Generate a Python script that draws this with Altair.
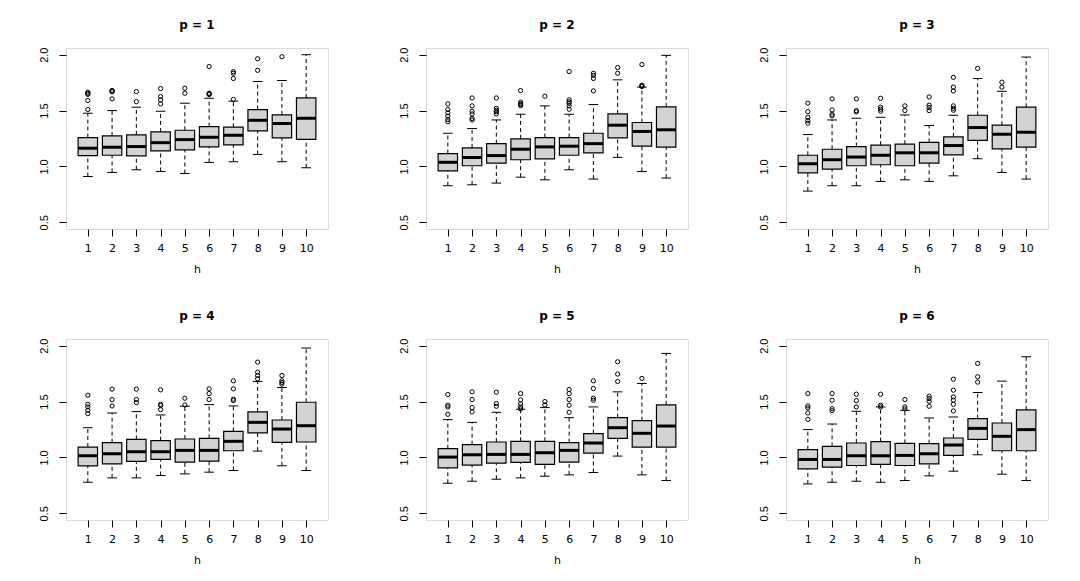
import altair as alt
import pandas as pd

H = list(range(1, 11))
P_VALUES = [1, 2, 3, 4, 5, 6]

LO = [
    [0.910, 0.946, 0.970, 0.955, 0.937, 1.036, 1.042, 1.107, 1.042, 0.988],
    [0.827, 0.836, 0.851, 0.904, 0.880, 0.970, 0.887, 1.081, 0.955, 0.896],
    [0.779, 0.827, 0.827, 0.866, 0.880, 0.866, 0.916, 1.069, 0.946, 0.887],
    [0.778, 0.817, 0.817, 0.838, 0.853, 0.868, 0.883, 1.057, 0.925, 0.883],
    [0.769, 0.787, 0.805, 0.817, 0.832, 0.844, 0.865, 1.012, 0.844, 0.793],
    [0.763, 0.778, 0.787, 0.778, 0.793, 0.835, 0.877, 1.024, 0.850, 0.793],
]
Q1 = [
    [1.097, 1.100, 1.094, 1.139, 1.148, 1.175, 1.193, 1.318, 1.255, 1.243],
    [0.961, 1.006, 1.030, 1.060, 1.067, 1.100, 1.122, 1.255, 1.182, 1.172],
    [0.943, 0.976, 1.006, 1.015, 1.006, 1.030, 1.104, 1.234, 1.158, 1.172],
    [0.925, 0.943, 0.964, 0.982, 0.958, 0.967, 1.060, 1.219, 1.135, 1.138],
    [0.907, 0.931, 0.949, 0.955, 0.937, 0.958, 1.039, 1.171, 1.093, 1.093],
    [0.898, 0.913, 0.928, 0.937, 0.928, 0.943, 1.018, 1.162, 1.060, 1.060],
]
MED = [
    [1.163, 1.172, 1.178, 1.213, 1.240, 1.261, 1.279, 1.413, 1.384, 1.431],
    [1.037, 1.080, 1.097, 1.154, 1.175, 1.181, 1.204, 1.369, 1.313, 1.328],
    [1.024, 1.060, 1.084, 1.100, 1.122, 1.122, 1.187, 1.348, 1.288, 1.306],
    [1.015, 1.033, 1.051, 1.051, 1.063, 1.063, 1.144, 1.314, 1.254, 1.284],
    [1.003, 1.024, 1.027, 1.027, 1.042, 1.063, 1.129, 1.266, 1.216, 1.281],
    [0.982, 0.982, 1.015, 1.015, 1.018, 1.033, 1.111, 1.260, 1.189, 1.249],
]
Q3 = [
    [1.258, 1.273, 1.282, 1.309, 1.324, 1.357, 1.351, 1.509, 1.461, 1.613],
    [1.115, 1.166, 1.204, 1.246, 1.258, 1.258, 1.297, 1.470, 1.393, 1.533],
    [1.100, 1.154, 1.178, 1.190, 1.199, 1.215, 1.264, 1.458, 1.369, 1.530],
    [1.093, 1.132, 1.162, 1.150, 1.165, 1.171, 1.234, 1.407, 1.335, 1.494],
    [1.078, 1.114, 1.138, 1.144, 1.144, 1.132, 1.213, 1.356, 1.329, 1.470],
    [1.069, 1.099, 1.129, 1.141, 1.126, 1.123, 1.174, 1.347, 1.308, 1.425],
]
HI = [
    [1.476, 1.500, 1.530, 1.494, 1.566, 1.610, 1.584, 1.760, 1.769, 2.000],
    [1.297, 1.339, 1.416, 1.467, 1.542, 1.467, 1.554, 1.775, 1.710, 1.994],
    [1.285, 1.416, 1.431, 1.440, 1.461, 1.366, 1.458, 1.787, 1.672, 1.979],
    [1.266, 1.398, 1.410, 1.380, 1.458, 1.473, 1.461, 1.680, 1.626, 1.979],
    [1.338, 1.314, 1.404, 1.431, 1.446, 1.356, 1.452, 1.587, 1.662, 1.931],
    [1.249, 1.299, 1.413, 1.452, 1.422, 1.353, 1.362, 1.581, 1.683, 1.901],
]
OUTLIERS = [
    [[1.51, 1.59, 1.645, 1.655, 1.664], [1.605, 1.667, 1.676, 1.68], [1.58, 1.67],
     [1.56, 1.596, 1.625, 1.697], [1.655, 1.70], [1.643, 1.65, 1.655, 1.894],
     [1.60, 1.787, 1.834, 1.848], [1.86, 1.964], [1.982], []],
    [[1.40, 1.42, 1.45, 1.48, 1.51, 1.56], [1.416, 1.43, 1.47, 1.494, 1.542, 1.613],
     [1.47, 1.49, 1.503, 1.52, 1.613], [1.545, 1.555, 1.56, 1.575, 1.679], [1.628],
     [1.512, 1.542, 1.565, 1.578, 1.596, 1.849], [1.676, 1.787, 1.815, 1.834],
     [1.834, 1.885], [1.715, 1.72, 1.727, 1.912], []],
    [[1.387, 1.41, 1.44, 1.49, 1.566], [1.452, 1.467, 1.506, 1.605], [1.488, 1.50, 1.605],
     [1.494, 1.512, 1.53, 1.61], [1.50, 1.542], [1.50, 1.527, 1.548, 1.622],
     [1.503, 1.52, 1.542, 1.675, 1.71, 1.797], [1.877], [1.71, 1.754], []],
    [[1.392, 1.422, 1.452, 1.476, 1.557], [1.461, 1.518, 1.611], [1.491, 1.518, 1.611],
     [1.428, 1.464, 1.476, 1.605], [1.47, 1.53], [1.518, 1.572, 1.614],
     [1.509, 1.521, 1.614, 1.686], [1.704, 1.733, 1.763, 1.853],
     [1.656, 1.671, 1.686, 1.733], []],
    [[1.386, 1.452, 1.467, 1.563], [1.407, 1.446, 1.518, 1.587], [1.458, 1.482, 1.584],
     [1.434, 1.452, 1.479, 1.515, 1.572], [1.47, 1.50], [1.404, 1.467, 1.518, 1.572, 1.608],
     [1.512, 1.53, 1.617, 1.686], [1.68, 1.746, 1.856], [1.707], []],
    [[1.341, 1.398, 1.443, 1.461, 1.572], [1.419, 1.437, 1.512, 1.572], [1.452, 1.509, 1.566],
     [1.452, 1.467, 1.566], [1.434, 1.452, 1.518], [1.458, 1.503, 1.527, 1.548],
     [1.416, 1.476, 1.512, 1.542, 1.602, 1.70], [1.674, 1.722, 1.841], [], []],
]

Y_TICKS = [0.5, 1.0, 1.5, 2.0]
FONT_X = "DejaVu Sans"
FONT_Y = "Liberation Sans"
W, HGT = 262, 181

xs = alt.Scale(domain=[0.1, 10.9], nice=False, zero=False)
ys = alt.Scale(domain=[0.44, 2.06], nice=False, zero=False)
xaxis = alt.Axis(values=H, domain=False, grid=False, tickSize=7, tickColor="black",
                 labelFont=FONT_X, labelFontSize=11, labelColor="black", labelPadding=6,
                 titleFont=FONT_X, titleFontSize=11, titleFontWeight="normal",
                 titleColor="black", titlePadding=10, labelFlush=False)
yaxis = alt.Axis(values=Y_TICKS, domain=False, grid=False, tickSize=7, tickColor="black",
                 labelFont=FONT_Y, labelFontSize=11, labelColor="black", labelAngle=-90,
                 labelAlign="center", labelBaseline="bottom", labelPadding=10,
                 format=".1f", labelFlush=False)


def panel(i):
    df = pd.DataFrame({"h": H, "lo": LO[i], "q1": Q1[i], "med": MED[i],
                       "q3": Q3[i], "hi": HI[i]})
    out = pd.DataFrame([{"h": h, "v": v} for h, vals in zip(H, OUTLIERS[i]) for v in vals])
    base = alt.Chart(df).transform_calculate(
        xl="datum.h - 0.4", xr="datum.h + 0.4",
        cl="datum.h - 0.2", cr="datum.h + 0.2")
    X = lambda f: alt.X(f, type="quantitative", scale=xs, axis=xaxis, title="h")
    Y = lambda f: alt.Y(f, type="quantitative", scale=ys, axis=yaxis, title=None)
    whisk_up = base.mark_rule(color="black", strokeWidth=1, strokeDash=[4, 3]).encode(
        x=X("h"), y=Y("q3"), y2="hi")
    whisk_dn = base.mark_rule(color="black", strokeWidth=1, strokeDash=[4, 3]).encode(
        x=X("h"), y=Y("lo"), y2="q1")
    cap_hi = base.mark_rule(color="black", strokeWidth=1).encode(x=X("cl"), x2="cr", y=Y("hi"))
    cap_lo = base.mark_rule(color="black", strokeWidth=1).encode(x=X("cl"), x2="cr", y=Y("lo"))
    box = base.mark_bar(fill="#D3D3D3", stroke="black", strokeWidth=1.2).encode(
        x=X("xl"), x2="xr", y=Y("q1"), y2="q3")
    med = base.mark_rule(color="black", strokeWidth=3).encode(x=X("xl"), x2="xr", y=Y("med"))
    pts = alt.Chart(out).mark_point(shape="circle", filled=False, color="black",
                                    size=18, strokeWidth=1, opacity=1).encode(
        x=X("h"), y=Y("v"))
    return alt.layer(whisk_up, whisk_dn, cap_hi, cap_lo, box, med, pts).properties(
        width=W, height=HGT,
        title=alt.TitleParams(f"p = {P_VALUES[i]}", font=FONT_X, fontSize=12,
                              fontWeight="bold", color="black", offset=15, anchor="middle"))


row1 = alt.hconcat(panel(0), panel(1), panel(2), spacing=68)
row2 = alt.hconcat(panel(3), panel(4), panel(5), spacing=68)
chart = alt.vconcat(row1, row2, spacing=34).properties(
    padding={"left": 29, "top": 10, "right": 0, "bottom": 0}
).configure_view(stroke="black", strokeWidth=1.2).configure(background="white")

chart.save("out.html", embed_options={"renderer": "svg", "actions": False})
